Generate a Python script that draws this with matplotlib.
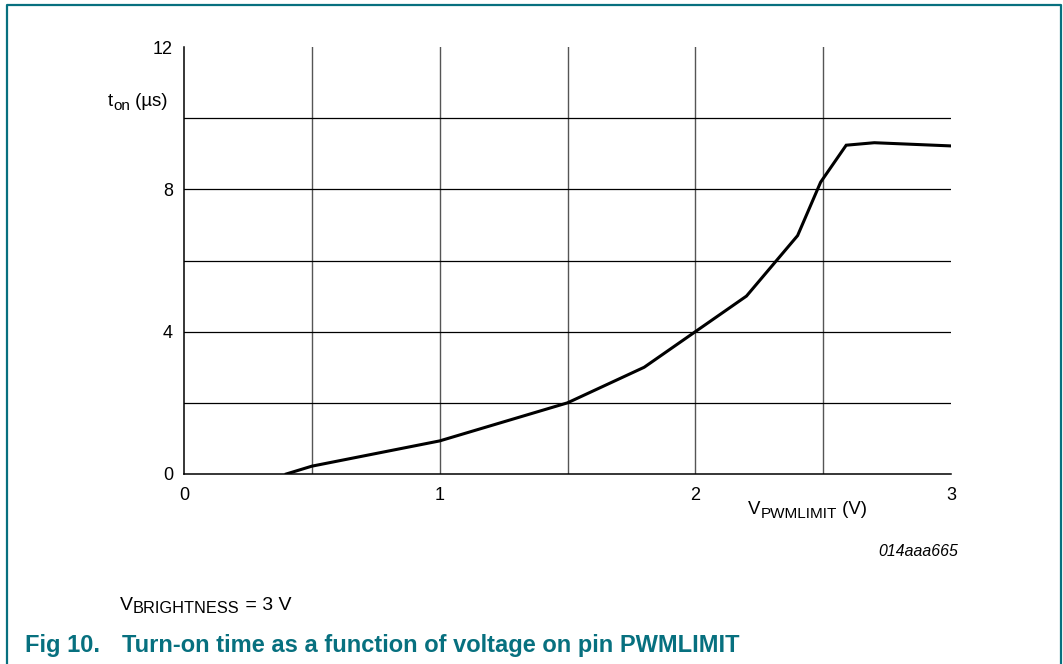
import matplotlib.pyplot as plt
from matplotlib.lines import Line2D

plt.rcParams['font.family'] = ['Liberation Sans', 'DejaVu Sans']

# curve data
v_pwmlimit = [0.40, 0.50, 1.00, 1.50, 1.80, 2.00, 2.20, 2.40, 2.49, 2.59, 2.70, 3.00]
t_on = [0.00, 0.22, 0.93, 2.00, 3.00, 4.00, 5.00, 6.70, 8.20, 9.24, 9.31, 9.22]

x_ticks = [0, 1, 2, 3]
y_ticks = [0, 4, 8, 12]
x_grid = [0.5, 1.0, 1.5, 2.0, 2.5]
y_grid = [2, 4, 6, 8, 10]

teal = '#07707f'
W, H = 1063, 664

fig = plt.figure(figsize=(W / 100, H / 100), dpi=100)
ax = fig.add_axes([184 / W, 1 - 474 / H, (951 - 184) / W, (474 - 47) / H])

for gx in x_grid:
    ax.axvline(gx, color='#555555', lw=1.0, zorder=1)
for gy in y_grid:
    ax.axhline(gy, color='black', lw=0.9, zorder=1)

ax.plot(v_pwmlimit, t_on, color='black', lw=2.2, solid_joinstyle='miter', zorder=3)

ax.set_xlim(0, 3)
ax.set_ylim(0, 12)
for side in ['top', 'right']:
    ax.spines[side].set_visible(False)
ax.spines['left'].set_linewidth(1.1)
ax.spines['bottom'].set_linewidth(1.1)
ax.set_xticks(x_ticks)
ax.set_yticks(y_ticks)
ax.tick_params(length=0, labelsize=13)
ax.tick_params(axis='x', pad=9)
ax.tick_params(axis='y', pad=8)

renderer = fig.canvas.get_renderer()


def sub_text(x, y, parts, size=13.4, sub_size=11, drop=4, **kw):
    """Write text pieces one after another from pixel x; (text, True) is a subscript."""
    for s, is_sub in parts:
        yy = y - drop if is_sub else y
        t = fig.text(x / W, yy / H, s, ha='left', va='baseline',
                     fontsize=sub_size if is_sub else size, **kw)
        x = t.get_window_extent(renderer).x1


# y pixel positions measured from bottom of figure (baselines)
sub_text(108, H - 106, [('t', False), ('on', True), (' (µs)', False)])
sub_text(748, H - 514, [('V', False), ('PWMLIMIT', True), (' (V)', False)])
sub_text(120, H - 610, [('V', False), ('BRIGHTNESS', True), (' = 3 V', False)],
         size=14, sub_size=11.8, drop=3)

fig.text(958 / W, 1 - 552 / H, '014aaa665', ha='right', va='center',
         fontsize=11.4, style='italic')

fig.text(25 / W, 1 - 652 / H, 'Fig 10.', ha='left', va='baseline',
         fontsize=17, fontweight='bold', color=teal)
fig.text(122 / W, 1 - 652 / H,
         'Turn-on time as a function of voltage on pin PWMLIMIT',
         ha='left', va='baseline', fontsize=17, fontweight='bold', color=teal)

# teal frame around the figure
fx = [7 / W, 7 / W, 1061 / W, 1061 / W]
fy = [0, 1 - 5 / H, 1 - 5 / H, 0]
fig.add_artist(Line2D(fx, fy, transform=fig.transFigure, color=teal, lw=1.6))

fig.savefig('out.png', dpi=100)
